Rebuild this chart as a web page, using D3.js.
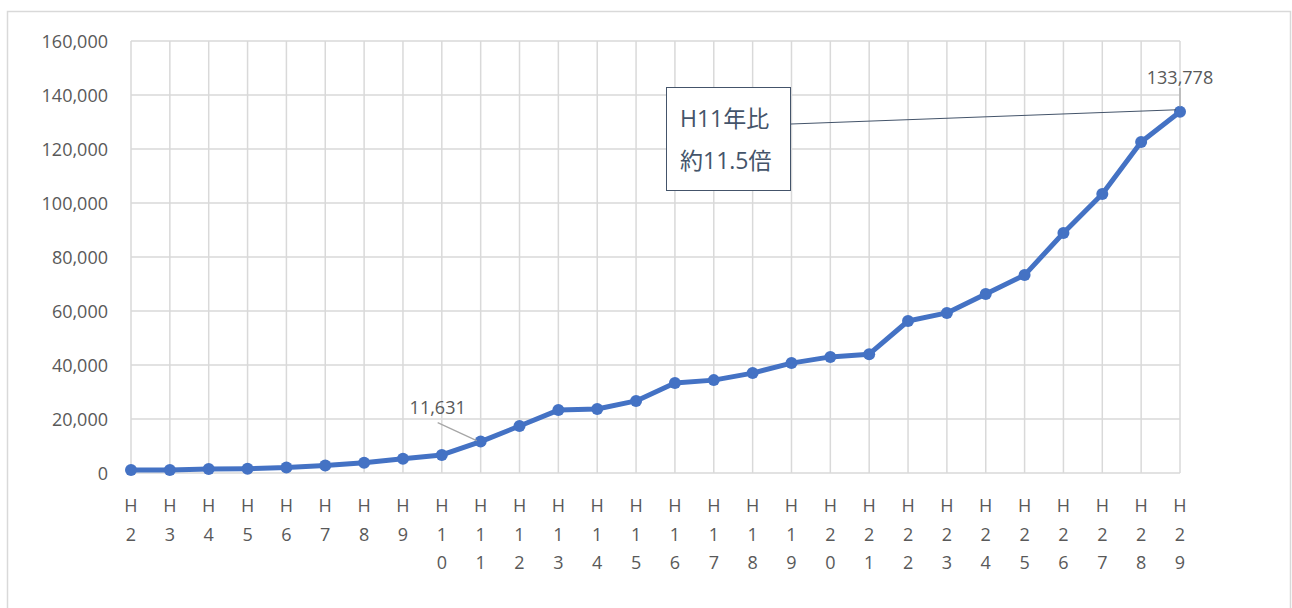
<!DOCTYPE html>
<html>
<head>
<meta charset="utf-8">
<title>H2-H29</title>
<script src="https://cdnjs.cloudflare.com/ajax/libs/d3/7.8.5/d3.min.js"></script>
<style>
  body { margin: 0; background: #fff; }
  svg text { font-family: "Open Sans", "Noto Sans CJK JP", sans-serif; }
</style>
</head>
<body>
<svg id="chart" width="1292" height="608"></svg>
<script>
// data
var years = ["H2","H3","H4","H5","H6","H7","H8","H9","H10","H11","H12","H13","H14","H15",
             "H16","H17","H18","H19","H20","H21","H22","H23","H24","H25","H26","H27","H28","H29"];
var values = [1100, 1100, 1500, 1600, 2000, 2800, 3800, 5300, 6700, 11631, 17400, 23300, 23700, 26700,
              33300, 34400, 37000, 40700, 43000, 44000, 56300, 59300, 66300, 73300, 88900, 103300, 122600, 133778];
var yTicks = [0, 20000, 40000, 60000, 80000, 100000, 120000, 140000, 160000];
var calloutLines = ["H11年比", "約11.5倍"];

var svg = d3.select("#chart");

// outer frame
svg.append("rect").attr("x", 7.5).attr("y", 11.5).attr("width", 1283).attr("height", 610)
  .attr("fill", "none").attr("stroke", "#d9d9d9").attr("stroke-width", 1.5);

var mLeft = 131, mRight = 1180, mTop = 41, mBottom = 473;

var x = d3.scalePoint().domain(years).range([mLeft, mRight]);
var y = d3.scaleLinear().domain([0, 160000]).range([mBottom, mTop]);

// grid
var g = svg.append("g");
g.selectAll("line.h").data(yTicks).enter().append("line")
  .attr("x1", mLeft).attr("x2", mRight)
  .attr("y1", d => y(d)).attr("y2", d => y(d))
  .attr("stroke", "#d9d9d9").attr("stroke-width", 1.5);
g.selectAll("line.v").data(years).enter().append("line")
  .attr("x1", d => x(d)).attr("x2", d => x(d))
  .attr("y1", mTop).attr("y2", mBottom)
  .attr("stroke", "#d9d9d9").attr("stroke-width", 1.5);

// y labels
var fmt = d3.format(",");
svg.selectAll("text.yl").data(yTicks).enter().append("text")
  .attr("x", 108).attr("y", d => y(d) + 6.5)
  .attr("text-anchor", "end").attr("font-size", 18).attr("fill", "#595959")
  .text(d => fmt(d));

// x labels, one character per line
years.forEach(function (yr) {
  var t = svg.append("text").attr("text-anchor", "middle")
    .attr("font-size", 18).attr("fill", "#595959");
  yr.split("").forEach(function (ch, i) {
    t.append("tspan").attr("x", x(yr)).attr("y", 512 + i * 28.5).text(ch);
  });
});

// line + markers
var line = d3.line().x((d, i) => x(years[i])).y(d => y(d));
svg.append("path").datum(values)
  .attr("d", line).attr("fill", "none")
  .attr("stroke", "#4472c4").attr("stroke-width", 5).attr("stroke-linejoin", "round");
svg.selectAll("circle").data(values).enter().append("circle")
  .attr("cx", (d, i) => x(years[i])).attr("cy", d => y(d)).attr("r", 6)
  .attr("fill", "#4472c4");

// data labels
var i11 = years.indexOf("H11"), i29 = years.indexOf("H29");
svg.append("line")
  .attr("x1", x(years[i11]) - 43).attr("y1", y(values[i11]) - 19)
  .attr("x2", x(years[i11]) - 4).attr("y2", y(values[i11]) - 1)
  .attr("stroke", "#a6a6a6").attr("stroke-width", 1.2);
svg.append("text").attr("x", x(years[i11]) - 43).attr("y", y(values[i11]) - 28)
  .attr("text-anchor", "middle").attr("font-size", 18).attr("fill", "#595959")
  .text(fmt(values[i11]));

svg.append("line")
  .attr("x1", x(years[i29])).attr("y1", y(values[i29]) - 24)
  .attr("x2", x(years[i29])).attr("y2", y(values[i29]) - 5)
  .attr("stroke", "#a6a6a6").attr("stroke-width", 1.2);
svg.append("text").attr("x", x(years[i29])).attr("y", y(values[i29]) - 28)
  .attr("text-anchor", "middle").attr("font-size", 18).attr("fill", "#595959")
  .text(fmt(values[i29]));

// callout
svg.append("line")
  .attr("x1", 791).attr("y1", 124)
  .attr("x2", x(years[i29]) - 4).attr("y2", y(values[i29]) - 2)
  .attr("stroke", "#44546a").attr("stroke-width", 1);
svg.append("rect").attr("x", 666.5).attr("y", 87.5).attr("width", 124).attr("height", 103)
  .attr("fill", "#fff").attr("stroke", "#44546a").attr("stroke-width", 1);
calloutLines.forEach(function (s, i) {
  svg.append("text").attr("x", 680).attr("y", 127 + i * 42)
    .attr("font-size", 23).attr("fill", "#44546a").text(s);
});
</script>
</body>
</html>
